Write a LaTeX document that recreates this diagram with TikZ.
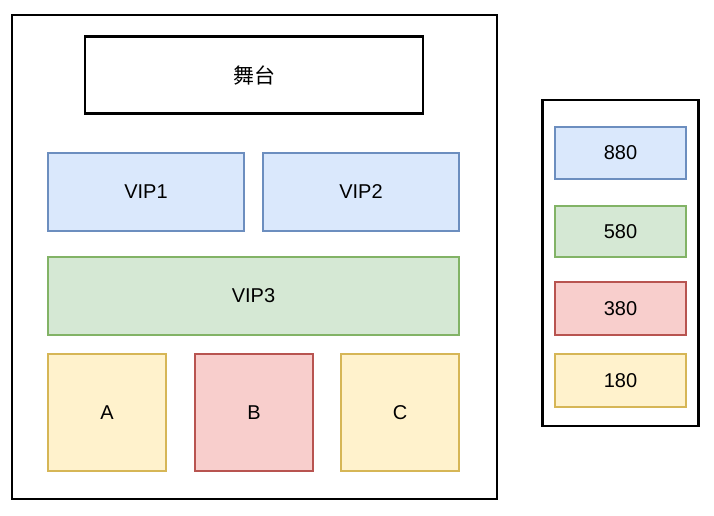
\documentclass[tikz,border=0pt]{standalone}
\usepackage{fontspec}
\setmainfont{Liberation Sans}
\newfontfamily\cjk{Noto Sans CJK SC}
\definecolor{bluef}{HTML}{DAE8FC}\definecolor{blued}{HTML}{6C8EBF}
\definecolor{greenf}{HTML}{D5E8D4}\definecolor{greend}{HTML}{82B366}
\definecolor{redf}{HTML}{F8CECC}\definecolor{redd}{HTML}{B85450}
\definecolor{yelf}{HTML}{FFF2CC}\definecolor{yeld}{HTML}{D6B656}
\begin{document}
\begin{tikzpicture}[x=1pt,y=-1pt,
  every node/.style={font=\fontsize{20}{22}\selectfont, inner sep=0pt, outer sep=0pt},
  frame/.style={draw=black, line width=2.6pt, fill=white, rectangle},
  zone/.style={rectangle, line width=2pt},
  bluebox/.style={zone, draw=blued, fill=bluef},
  greenbox/.style={zone, draw=greend, fill=greenf},
  redbox/.style={zone, draw=redd, fill=redf},
  yelbox/.style={zone, draw=yeld, fill=yelf}]
\useasboundingbox (0,0) rectangle (714,515);
\fill[white] (0,0) rectangle (714,515);
\node[frame, minimum width=485pt, minimum height=484pt] (hall) at (254.5,257) {};
\node[frame, minimum width=338pt, minimum height=77pt] (stage) at (254,75) {\cjk\fontsize{21}{22}\selectfont 舞台};
\node[bluebox, minimum width=196pt, minimum height=78pt] (vip1) at (146,192) {VIP1};
\node[bluebox, minimum width=196pt, minimum height=78pt] (vip2) at (361,192) {VIP2};
\node[greenbox, minimum width=411pt, minimum height=78pt] (vip3) at (253.5,296) {VIP3};
\node[yelbox, minimum width=118pt, minimum height=117pt] (a) at (107,412.5) {A};
\node[redbox, minimum width=118pt, minimum height=117pt] (b) at (254,412.5) {B};
\node[yelbox, minimum width=118pt, minimum height=117pt] (c) at (400,412.5) {C};
\node[frame, minimum width=156pt, minimum height=326pt] (legend) at (620.5,263) {};
\node[bluebox, minimum width=131pt, minimum height=52pt] (p880) at (620.5,153) {880};
\node[greenbox, minimum width=131pt, minimum height=51pt] (p580) at (620.5,231.5) {580};
\node[redbox, minimum width=131pt, minimum height=53pt] (p380) at (620.5,308.5) {380};
\node[yelbox, minimum width=131pt, minimum height=53pt] (p180) at (620.5,380.5) {180};
\end{tikzpicture}
\end{document}
